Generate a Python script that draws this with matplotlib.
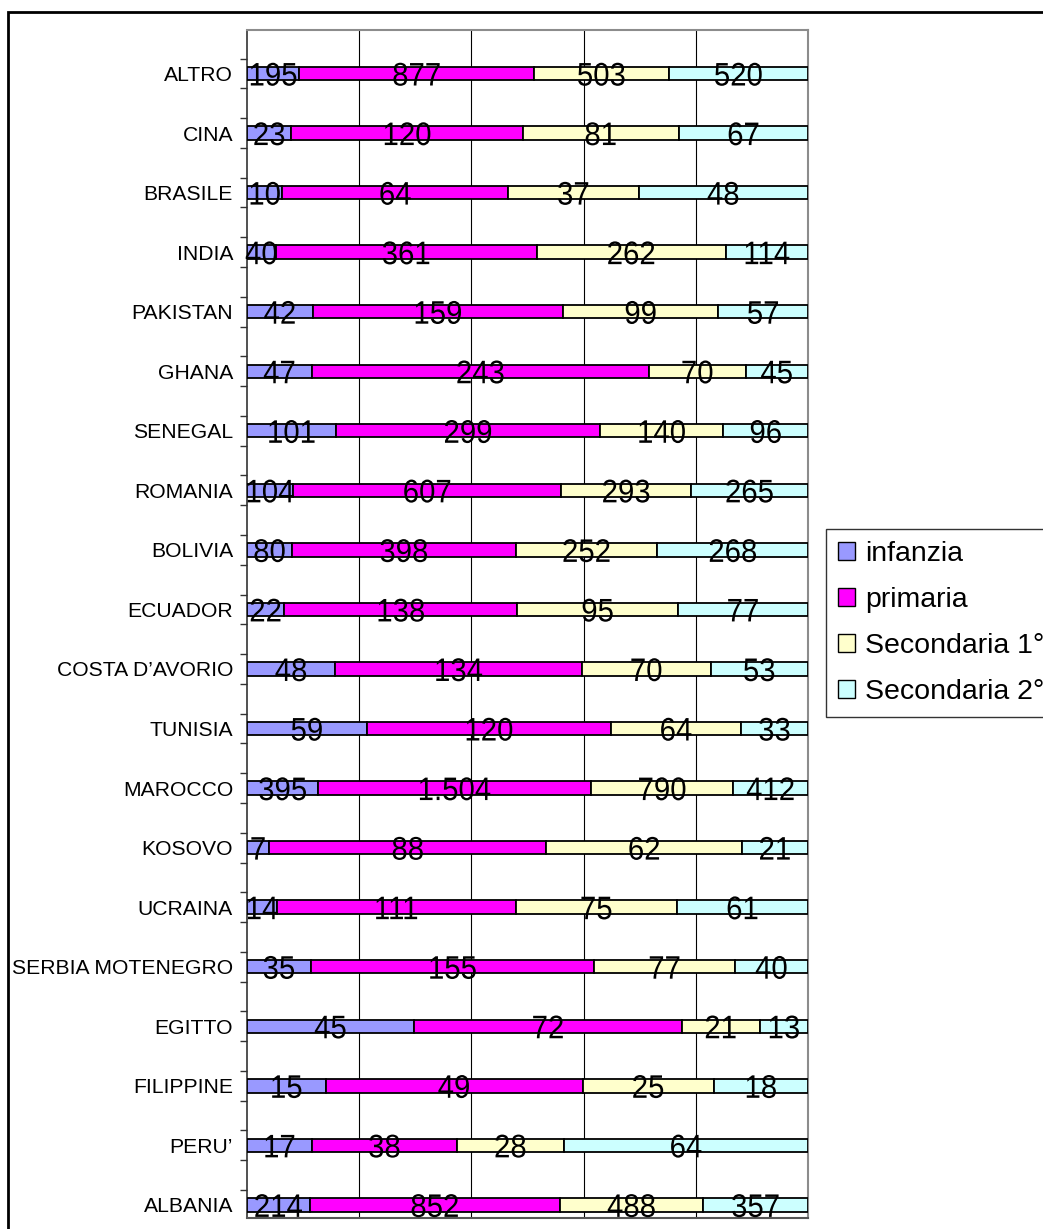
import matplotlib
matplotlib.use("Agg")
import matplotlib.pyplot as plt
from matplotlib.patches import Patch, Rectangle
from matplotlib.patheffects import AbstractPathEffect
from matplotlib.transforms import Affine2D
import numpy as np

plt.rcParams['font.family'] = ['Liberation Sans', 'DejaVu Sans']

# Pupils by nationality and school level (top to bottom as shown)
countries = ["ALTRO", "CINA", "BRASILE", "INDIA", "PAKISTAN", "GHANA", "SENEGAL",
             "ROMANIA", "BOLIVIA", "ECUADOR", "COSTA D\u2019AVORIO", "TUNISIA",
             "MAROCCO", "KOSOVO", "UCRAINA", "SERBIA MOTENEGRO", "EGITTO",
             "FILIPPINE", "PERU\u2019", "ALBANIA"]
infanzia = [195, 23, 10, 40, 42, 47, 101, 104, 80, 22, 48, 59, 395, 7, 14, 35, 45, 15, 17, 214]
primaria = [877, 120, 64, 361, 159, 243, 299, 607, 398, 138, 134, 120, 1504, 88, 111, 155, 72, 49, 38, 852]
secondaria1 = [503, 81, 37, 262, 99, 70, 140, 293, 252, 95, 70, 64, 790, 62, 75, 77, 21, 25, 28, 488]
secondaria2 = [520, 67, 48, 114, 57, 45, 96, 265, 268, 77, 53, 33, 412, 21, 61, 40, 13, 18, 64, 357]

series_names = ["infanzia", "primaria", "Secondaria 1\u00b0", "Secondaria 2\u00b0"]
series_colors = ["#9999FF", "#FF00FF", "#FFFFCC", "#CCFFFF"]


class NarrowGlyphs(AbstractPathEffect):
    """Squeeze the glyphs horizontally around the centre of the string."""

    def __init__(self, sx):
        super().__init__()
        self._sx = sx

    def draw_path(self, renderer, gc, tpath, affine, rgbFace=None):
        ext = tpath.get_extents(affine)
        cx = 0.5 * (ext.x0 + ext.x1)
        squeeze = Affine2D().translate(-cx, 0).scale(self._sx, 1.0).translate(cx, 0)
        renderer.draw_path(gc, tpath, affine + squeeze, rgbFace)


def fmt_it(v):
    return f"{v:,}".replace(",", ".")


fig = plt.figure(figsize=(10.43, 12.29), dpi=100)
ax = fig.add_axes([0.2368, 0.00895, 0.5379, 0.9666])

data = np.array([infanzia, primaria, secondaria1, secondaria2], dtype=float)
totals = data.sum(axis=0)
shares = data / totals
n = len(countries)
ypos = np.arange(n)[::-1]

narrow = [NarrowGlyphs(0.9)]
left = np.zeros(n)
for k in range(4):
    ax.barh(ypos, shares[k], left=left, height=0.225, color=series_colors[k],
            edgecolor="black", linewidth=1.3, zorder=3)
    for i in range(n):
        ax.text(left[i] + shares[k][i] / 2, ypos[i], fmt_it(int(data[k][i])),
                ha="center", va="center_baseline", fontsize=23.5, color="black",
                zorder=4, path_effects=narrow)
    left += shares[k]

ax.set_xlim(0, 1)
ax.set_ylim(-0.22, n - 1 + 0.73)

for gx in [0.2, 0.4, 0.6, 0.8]:
    ax.axvline(gx, color="black", linewidth=0.8, zorder=1)

ax.set_xticks([])
ax.set_yticks(ypos)
ax.set_yticklabels(countries, fontsize=15.2)
ax.tick_params(axis="y", which="major", length=0, pad=10)
minor = [y + d for y in range(n) for d in (-0.25, 0.25)]
minor = [m for m in minor if -0.22 < m < n - 1 + 0.73]
ax.set_yticks(minor, minor=True)
ax.tick_params(axis="y", which="minor", length=5, width=1.0, color="#333333", direction="out")

for side in ["top", "right"]:
    ax.spines[side].set_color("#8c8c8c")
    ax.spines[side].set_linewidth(1.5)
ax.spines["bottom"].set_color("#555555")
ax.spines["bottom"].set_linewidth(1.5)
ax.spines["left"].set_color("#333333")
ax.spines["left"].set_linewidth(1.2)

handles = [Patch(facecolor=c, edgecolor="black", linewidth=1.0) for c in series_colors]
leg = fig.legend(handles, series_names, loc="upper left",
                 bbox_to_anchor=(826 / 1043, 1 - 529 / 1229),
                 fontsize=20.5, frameon=True, fancybox=False, shadow=False,
                 handlelength=0.6, handleheight=0.6, handletextpad=0.35,
                 borderpad=0.42, labelspacing=0.70, borderaxespad=0)
leg.get_frame().set_edgecolor("black")
leg.get_frame().set_linewidth(1.0)

# Outer chart border
fig.patches.append(Rectangle((7.5 / 1043, -0.1), 1.2, 1.1 - 12 / 1229,
                             transform=fig.transFigure, fill=False,
                             edgecolor="black", linewidth=2.0, clip_on=False))

fig.savefig("out.png", dpi=100)
